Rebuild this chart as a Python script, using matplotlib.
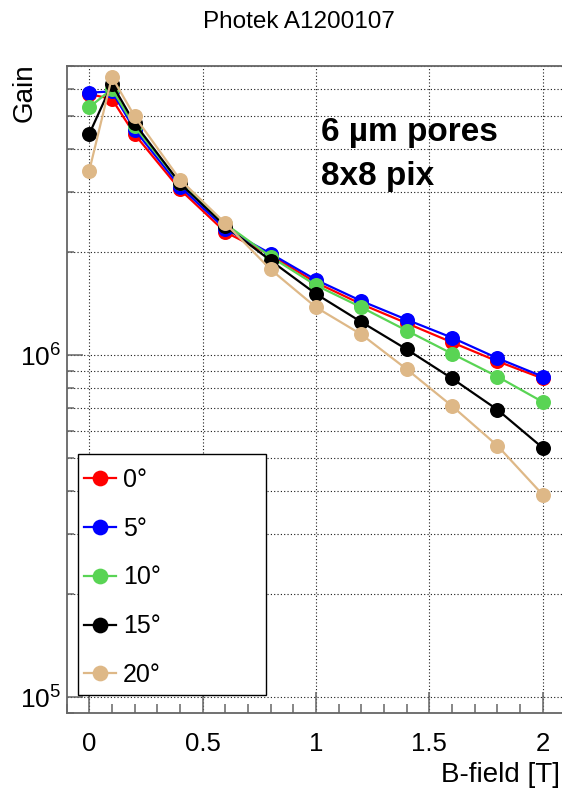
import matplotlib
matplotlib.use("Agg")
import matplotlib.pyplot as plt
from matplotlib.patches import Rectangle
from matplotlib.ticker import LogLocator, MultipleLocator, NullFormatter, FixedLocator

plt.rcParams["font.family"] = ["Liberation Sans", "DejaVu Sans"]
plt.rcParams["mathtext.fontset"] = "custom"
plt.rcParams["mathtext.rm"] = "Liberation Sans"

# Gain vs magnetic field for several tilt angles
bfield = [0.0, 0.1, 0.2, 0.4, 0.6, 0.8, 1.0, 1.2, 1.4, 1.6, 1.8, 2.0]
gain_0deg = [5.80e6, 5.60e6, 4.42e6, 3.05e6, 2.29e6, 1.96e6, 1.63e6, 1.41e6, 1.24e6, 1.09e6, 9.6e5, 8.55e5]
gain_5deg = [5.85e6, 5.90e6, 4.56e6, 3.11e6, 2.34e6, 1.98e6, 1.66e6, 1.44e6, 1.27e6, 1.125e6, 9.8e5, 8.66e5]
gain_10deg = [5.30e6, 6.00e6, 4.66e6, 3.18e6, 2.42e6, 1.94e6, 1.60e6, 1.38e6, 1.18e6, 1.01e6, 8.66e5, 7.30e5]
gain_15deg = [4.43e6, 6.20e6, 4.76e6, 3.18e6, 2.38e6, 1.89e6, 1.51e6, 1.25e6, 1.04e6, 8.55e5, 6.93e5, 5.36e5]
gain_20deg = [3.46e6, 6.50e6, 4.99e6, 3.26e6, 2.43e6, 1.78e6, 1.38e6, 1.15e6, 9.1e5, 7.1e5, 5.44e5, 3.91e5]

labels = ["0°", "5°", "10°", "15°", "20°"]
colors = ["#ff0000", "#0000ff", "#59d454", "#000000", "#deb887"]
series = [gain_0deg, gain_5deg, gain_10deg, gain_15deg, gain_20deg]

W, H = 562, 791
fig = plt.figure(figsize=(W / 100, H / 100), dpi=100)

# axes frame in pixel terms
left_px, right_px, top_px, bottom_px = 66.6, 565.4, 66.0, 713.0
ax = fig.add_axes([left_px / W, 1 - bottom_px / H,
                   (right_px - left_px) / W, (bottom_px - top_px) / H])

for vals, col, lab in zip(series, colors, labels):
    ax.plot(bfield, vals, color=col, lw=1.6, marker="o", ms=10.8,
            markeredgewidth=0, label=lab, zorder=3, clip_on=False)

ax.set_yscale("log")
ax.set_xlim(-0.1, 2.1)
ax.set_ylim(9e4, 7e6)

frame_col = "#666666"
for s in ax.spines.values():
    s.set_color(frame_col)
    s.set_linewidth(1.3)

ax.xaxis.set_major_locator(MultipleLocator(0.5))
ax.xaxis.set_minor_locator(MultipleLocator(0.1))
ax.yaxis.set_major_locator(FixedLocator([1e5, 1e6]))
ax.yaxis.set_minor_locator(LogLocator(base=10, subs=[2, 3, 4, 5, 6, 7, 8, 9]))
ax.yaxis.set_minor_formatter(NullFormatter())
ax.set_xticks([0, 0.5, 1, 1.5, 2])
ax.set_xticklabels(["0", "0.5", "1", "1.5", "2"])
ax.set_yticks([1e5, 1e6])
ax.set_yticklabels([r"$\mathdefault{10^{5}}$", r"$\mathdefault{10^{6}}$"])

ax.tick_params(axis="x", which="major", direction="in", length=15, width=1.1,
               color=frame_col, labelsize=18.5, pad=13.5, top=False)
ax.tick_params(axis="x", which="minor", direction="in", length=6.7, width=1.1,
               color=frame_col, top=False)
ax.tick_params(axis="y", which="major", direction="in", length=11.5, width=1.1,
               color=frame_col, labelsize=19, pad=3.6, right=False)
ax.tick_params(axis="y", which="minor", direction="in", length=5, width=1.1,
               color=frame_col, right=False)

grid_kw = dict(color="#1a1a1a", lw=0.8, linestyle=(0, (1, 2)), zorder=0)
ax.grid(True, axis="x", which="major", **grid_kw)
ax.grid(True, axis="y", which="both", **grid_kw)
ax.set_axisbelow(True)

# legend box
bx0, by0, bx1, by1 = 78.3, 454.0, 266.0, 695.0
box = Rectangle((bx0 / W, 1 - by1 / H), (bx1 - bx0) / W, (by1 - by0) / H,
                transform=fig.transFigure, facecolor="white", edgecolor="black",
                lw=1.0, zorder=4)
fig.patches.append(box)
leg = fig.legend(loc="upper left", bbox_to_anchor=(84.0 / W, 1 - 468.0 / H),
                 frameon=False, fontsize=18, numpoints=1, handlelength=1.27,
                 handletextpad=0.3, labelspacing=0.99, borderpad=0.0,
                 borderaxespad=0.0, markerscale=1.05)
leg.set_zorder(5)

fig.text(299 / W, 1 - 27.7 / H, "Photek A1200107", ha="center",
         va="baseline", fontsize=17.5)
fig.text(25 / W, 1 - 63 / H, "Gain", rotation=90, ha="center", va="top",
         fontsize=20)
fig.text(560 / W, 1 - 782.5 / H, "B-field [T]", ha="right", va="baseline",
         fontsize=20)
fig.text(321 / W, 1 - 140.7 / H, "6 µm pores", ha="left", va="baseline",
         fontsize=24, fontweight="bold")
fig.text(321 / W, 1 - 185.0 / H, "8x8 pix", ha="left", va="baseline",
         fontsize=24, fontweight="bold")

fig.savefig("out.png", dpi=100)
